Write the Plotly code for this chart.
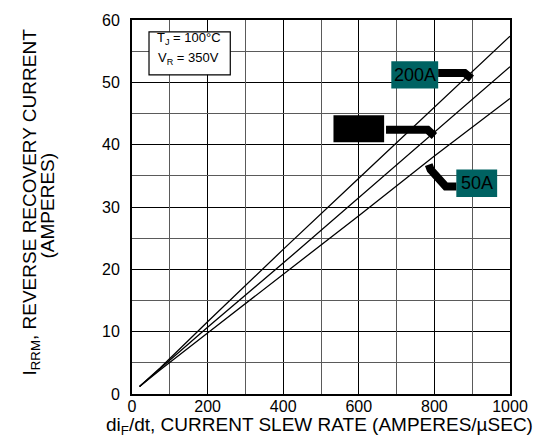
import plotly.graph_objects as go

# Data
slew_rate = [20, 75, 200, 400, 600, 800, 1000]
irrm_200A = [1.2, 4.2, 11.6, 23.2, 34.6, 46.0, 57.4]
irrm_100A = [1.2, 4.1, 10.7, 21.0, 31.5, 42.0, 52.5]
irrm_50A = [1.2, 3.9, 9.8, 19.2, 28.6, 38.2, 47.4]
series_names = ["200A", "100A", "50A"]
x_ticks = [0, 200, 400, 600, 800, 1000]
y_ticks = [0, 10, 20, 30, 40, 50, 60]
x_minor = [100, 300, 500, 700, 900]
y_minor = [5, 15, 25, 35, 45, 55]

FONT = "Liberation Sans, Arial, Helvetica, sans-serif"
TEAL = "#006262"
X_RANGE = [0, 1000]
Y_RANGE = [0, 60]

fig = go.Figure()
axes_for = [("x", "y"), ("x", "y"), ("x2", "y2")]
for name, ys, (xa, ya) in zip(series_names, [irrm_200A, irrm_100A, irrm_50A], axes_for):
    fig.add_trace(go.Scatter(x=slew_rate, y=ys, mode="lines", name=name,
                             xaxis=xa, yaxis=ya,
                             line=dict(color="black", width=1.3), showlegend=False))

major_common = dict(showgrid=True, gridcolor="black", gridwidth=1,
                    showline=True, linecolor="black", linewidth=2, mirror=True,
                    zeroline=False, tickfont=dict(family=FONT, size=16, color="black"))
fig.update_layout(
    xaxis=dict(range=X_RANGE, tickvals=x_ticks, ticks="", ticklabelstandoff=-3,
               **major_common),
    yaxis=dict(range=Y_RANGE, tickvals=y_ticks, ticks="outside", ticklen=7,
               tickcolor="rgba(0,0,0,0)", **major_common),
    xaxis2=dict(range=X_RANGE, tickvals=x_minor, overlaying="x", showticklabels=False,
                showgrid=True, gridcolor="#5a5a5a", gridwidth=1, zeroline=False,
                showline=False, ticks=""),
    yaxis2=dict(range=Y_RANGE, tickvals=y_minor, overlaying="y", showticklabels=False,
                showgrid=True, gridcolor="#5a5a5a", gridwidth=1, zeroline=False,
                showline=False, ticks=""),
)

shapes = []
annotations = []

# Condition box
shapes.append(dict(type="rect", xref="x", yref="y", x0=45, x1=260, y0=51.2, y1=58.1,
                   line=dict(color="black", width=1.2), fillcolor="white"))
annotations.append(dict(xref="x", yref="y", x=152, y=57.0, showarrow=False,
                        text="T<sub>J</sub> = 100°C", font=dict(family=FONT, size=13, color="black")))
annotations.append(dict(xref="x", yref="y", x=150, y=53.8, showarrow=False,
                        text="V<sub>R</sub> = 350V", font=dict(family=FONT, size=13, color="black")))

# Label boxes
labels = [
    ("200A", 686, 810, 49.0, 53.4, TEAL),
    ("100A", 533, 667, 40.4, 44.7, "black"),
    ("50A", 858, 966, 31.6, 36.0, TEAL),
]
for text, x0, x1, y0, y1, col in labels:
    shapes.append(dict(type="rect", xref="x", yref="y", x0=x0, x1=x1, y0=y0, y1=y1,
                       line=dict(width=0), fillcolor=col))
    annotations.append(dict(xref="x", yref="y", x=(x0 + x1) / 2, y=(y0 + y1) / 2,
                            showarrow=False, text=text,
                            font=dict(family=FONT, size=18, color="black")))

# Thick pointer arrows
for path in ["M 810,51.5 L 880,51.5 L 898,50.6",
             "M 672,42.4 L 782,42.4 L 800,41.4",
             "M 785,36.8 L 790,36.0 L 830,33.3 L 858,33.3"]:
    shapes.append(dict(type="path", xref="x", yref="y", path=path,
                       line=dict(color="black", width=8)))

# Axis titles
annotations.append(dict(xref="paper", yref="paper", x=-0.266, y=0.513, textangle=-90,
                        showarrow=False, xanchor="center", yanchor="middle",
                        text="I<sub>RRM</sub>, REVERSE RECOVERY CURRENT",
                        font=dict(family=FONT, size=19, color="black")))
annotations.append(dict(xref="paper", yref="paper", x=-0.224, y=0.505, textangle=-90,
                        showarrow=False, xanchor="center", yanchor="middle",
                        text="(AMPERES)",
                        font=dict(family=FONT, size=19, color="black")))
annotations.append(dict(xref="paper", yref="paper", x=0.495, y=-0.086,
                        showarrow=False, xanchor="center", yanchor="middle",
                        text="di<sub>F</sub>/dt, CURRENT SLEW RATE (AMPERES/µSEC)",
                        font=dict(family=FONT, size=19, color="black")))

fig.update_layout(
    width=540, height=440,
    margin=dict(l=132, r=27, t=14, b=46),
    paper_bgcolor="white", plot_bgcolor="white",
    shapes=shapes, annotations=annotations,
    font=dict(family=FONT, color="black"),
)

fig.write_html("out.html")
